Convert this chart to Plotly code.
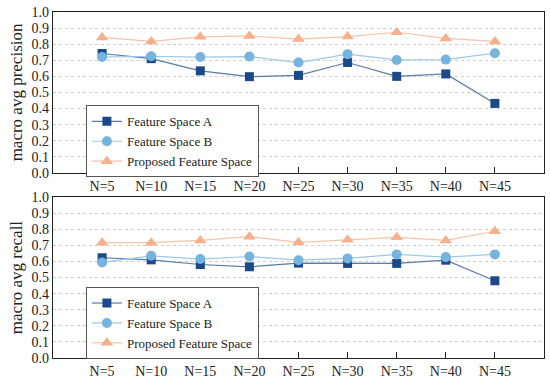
import plotly.graph_objects as go

categories = ["N=5", "N=10", "N=15", "N=20", "N=25", "N=30", "N=35", "N=40", "N=45"]

prec_a = [0.742, 0.710, 0.634, 0.598, 0.606, 0.686, 0.600, 0.615, 0.432]
prec_b = [0.720, 0.725, 0.720, 0.723, 0.686, 0.738, 0.702, 0.704, 0.744]
prec_p = [0.842, 0.817, 0.846, 0.851, 0.832, 0.847, 0.874, 0.836, 0.817]

rec_a = [0.623, 0.610, 0.581, 0.567, 0.590, 0.588, 0.588, 0.608, 0.480]
rec_b = [0.594, 0.635, 0.615, 0.631, 0.608, 0.619, 0.644, 0.627, 0.644]
rec_p = [0.717, 0.717, 0.731, 0.754, 0.719, 0.735, 0.750, 0.731, 0.788]

series_names = ["Feature Space A", "Feature Space B", "Proposed Feature Space"]
marker_colors = ["#1a4a8a", "#74b4de", "#f5b08c"]
line_colors = ["#5a7aa8", "#9cc8e8", "#f7c4a8"]
symbols = ["square", "circle", "triangle-up"]
sizes = [9, 10, 11]

FONT = "Times New Roman, Liberation Serif, serif"

fig = go.Figure()
for row, data in enumerate([(prec_a, prec_b, prec_p), (rec_a, rec_b, rec_p)]):
    sfx = "" if row == 0 else "2"
    for i, vals in enumerate(data):
        fig.add_trace(go.Scatter(
            x=categories, y=vals, mode="lines+markers", name=series_names[i],
            xaxis="x" + sfx, yaxis="y" + sfx,
            line=dict(color=line_colors[i], width=1.2),
            marker=dict(symbol=symbols[i], size=sizes[i], color=marker_colors[i]),
            legend="legend" if row == 0 else "legend2",
        ))

axis_common = dict(showline=True, linecolor="#222", linewidth=1.2, mirror=True,
                   tickfont=dict(family=FONT, size=14, color="#222"))
xcommon = dict(axis_common, type="category", range=[-1, 9], ticks="inside", ticklen=6,
               tickcolor="#222", showgrid=False, categoryorder="array", categoryarray=categories)
ycommon = dict(axis_common, range=[0, 1], dtick=0.1, tickformat=".1f", showgrid=True,
               gridcolor="#cfcfcf", griddash="dot", gridwidth=1, ticks="", zeroline=False)

legend_common = dict(bgcolor="white", bordercolor="#555", borderwidth=1,
                     font=dict(family=FONT, size=13, color="#222"),
                     xanchor="left", yanchor="top", tracegroupgap=0, itemwidth=30)

fig.update_layout(
    width=550, height=382,
    margin=dict(l=53, r=6, t=12, b=24, autoexpand=False),
    paper_bgcolor="white", plot_bgcolor="white",
    showlegend=True,
    font=dict(family=FONT),
    xaxis=dict(xcommon, domain=[0, 1], anchor="y"),
    yaxis=dict(ycommon, domain=[0.535, 1], anchor="x",
               title=dict(text="macro avg precision", font=dict(family=FONT, size=17, color="#222"), standoff=4)),
    xaxis2=dict(xcommon, domain=[0, 1], anchor="y2"),
    yaxis2=dict(ycommon, domain=[0, 0.465], anchor="x2",
                title=dict(text="macro avg recall", font=dict(family=FONT, size=17, color="#222"), standoff=4)),
    legend=dict(legend_common, x=0.067, y=0.73),
    legend2=dict(legend_common, x=0.067, y=0.205),
)

fig.write_html("out.html", config={"displayModeBar": False},
               post_script="document.body.style.margin='0px';")
